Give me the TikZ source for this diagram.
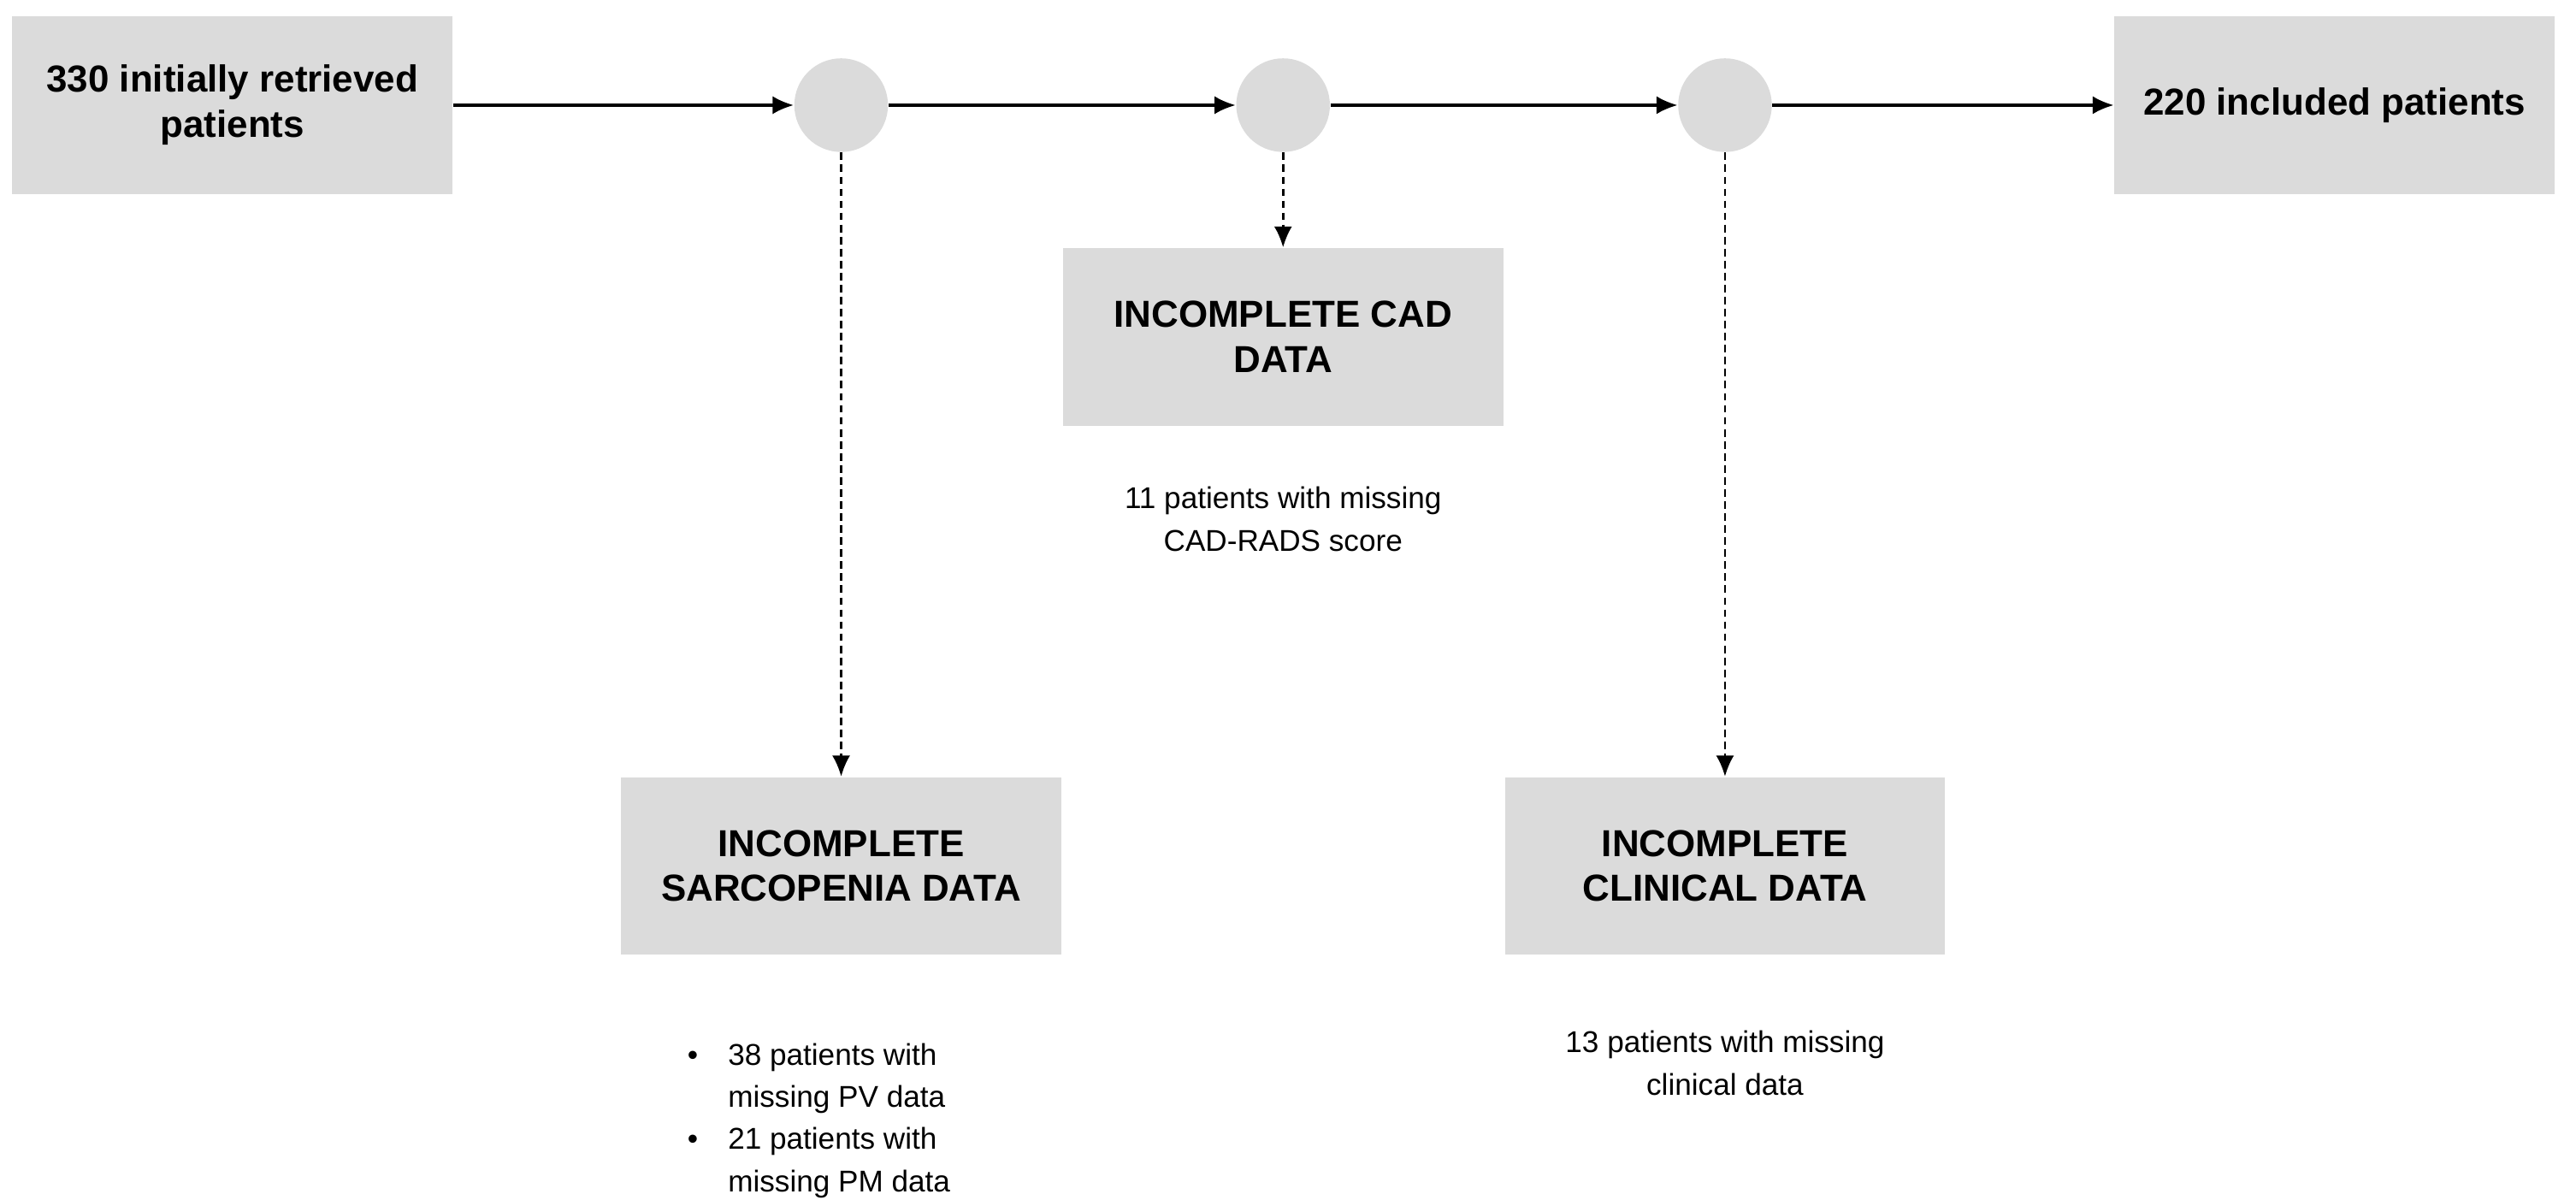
\documentclass[tikz,border=0pt]{standalone}
\usepackage{fontspec}
\setmainfont{Liberation Sans}
\usetikzlibrary{arrows.meta}
\begin{document}
\begin{tikzpicture}[x=0.01921cm,y=-0.01921cm,
 box/.style={fill=black!14,draw=none,minimum width=268*0.01921cm,minimum height=108*0.01921cm,font=\fontsize{12.5}{15}\selectfont\bfseries,align=center},
 dot/.style={circle,fill=black!14,draw=none,minimum size=57*0.01921cm,inner sep=0},
 arr/.style={-{Latex[length=7pt,width=6pt]},line width=0.9pt},
 darr/.style={arr,dash pattern=on 2.5pt off 1.5pt,line width=0.8pt},
 txt/.style={font=\fontsize{10}{14}\selectfont,align=center}]
\useasboundingbox (0,0) rectangle (1568,730);
\node[box] (a) at (141.5,64) {330 initially retrieved\\patients};
\node[box] (z) at (1421,64) {220 included patients};
\node[dot] (c1) at (512,64) {};
\node[dot] (c2) at (781,64) {};
\node[dot] (c3) at (1050,64) {};
\node[box] (s) at (512,527) {INCOMPLETE\\SARCOPENIA DATA};
\node[box] (d) at (781,205) {INCOMPLETE CAD\\DATA};
\node[box] (k) at (1050,527) {INCOMPLETE\\CLINICAL DATA};
\draw[arr] (a) -- (c1);
\draw[arr] (c1) -- (c2);
\draw[arr] (c2) -- (c3);
\draw[arr] (c3) -- (z);
\draw[darr] (c1) -- (s);
\draw[darr] (c2) -- (d);
\draw[darr] (c3) -- (k);
\node[txt] (t2) at (781,316) {11 patients with missing\\CAD-RADS score};
\node[txt] (t3) at (1050,647) {13 patients with missing\\clinical data};
\node[txt,align=left,anchor=north west] (t1) at (412,624) {%
\begin{tabular}{@{}l@{\hspace{10pt}}l@{}}
\textbullet & 38 patients with\\ & missing PV data\\
\textbullet & 21 patients with\\ & missing PM data
\end{tabular}};
\end{tikzpicture}
\end{document}
